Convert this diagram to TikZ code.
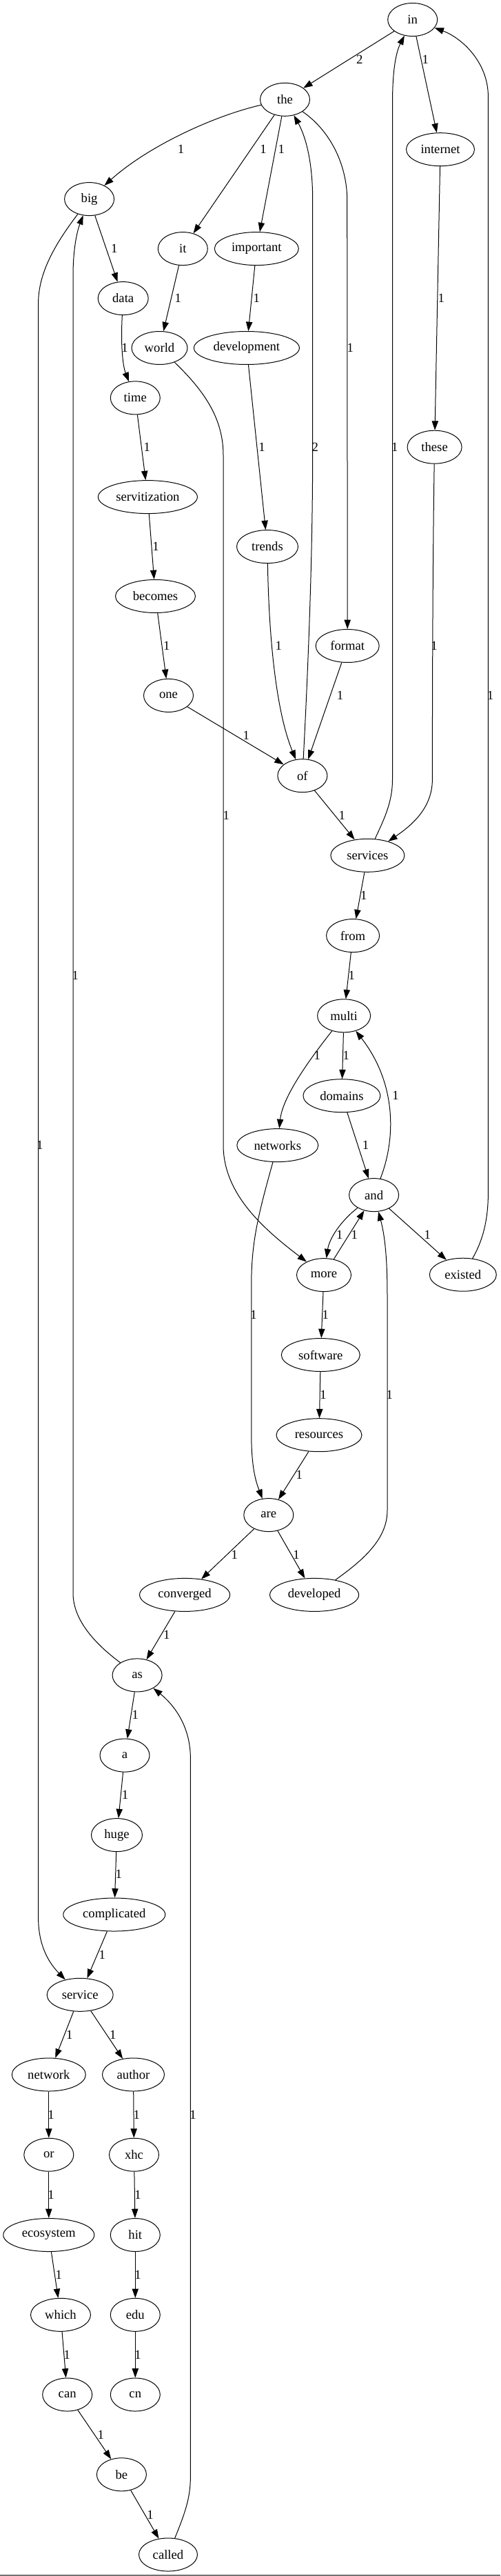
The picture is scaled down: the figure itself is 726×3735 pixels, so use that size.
\documentclass[tikz,border=0pt]{standalone}
\usepackage{fontspec}
\setmainfont{Liberation Serif}
\usetikzlibrary{shapes.geometric,arrows.meta}
\tikzset{
  nd/.style={ellipse, draw, line width=0.75pt, inner sep=0pt, minimum height=36pt, minimum width=54pt, font=\fontsize{14pt}{16pt}\selectfont},
  wd/.style={minimum width=#1*0.75pt},
  lbl/.style={inner sep=0pt, font=\fontsize{14pt}{16pt}\selectfont},
  edge/.style={draw, line width=0.75pt, -{Triangle[length=10pt,width=7pt]}}
}
\begin{document}
\begin{tikzpicture}[x=0.75pt,y=-0.75pt]
\useasboundingbox (0,0) rectangle (726,3735);
\fill[white] (0,0) rectangle (726,3735);
\draw[line width=1.2pt, draw=black!55] (0,3734) -- (726,3734);
% nodes
\node[nd] (in) at (598.7,28.5) {in};
\node[nd] (the) at (413.5,144.3) {the};
\node[nd,wd=99] (internet) at (639,216.7) {internet};
\node[nd] (big) at (129.6,288.6) {big};
\node[nd] (it) at (265.3,360.6) {it};
\node[nd,wd=122] (important) at (372.3,360.6) {important};
\node[nd,wd=73] (data) at (178.7,432.6) {data};
\node[nd,wd=81] (world) at (231.5,504.5) {world};
\node[nd,wd=153] (development) at (357.9,504.5) {development};
\node[nd] (time) at (196.3,576.9) {time};
\node[nd,wd=79] (these) at (630.6,648.2) {these};
\node[nd,wd=144] (servitization) at (214.4,720.6) {servitization};
\node[nd,wd=89] (trends) at (388,792.6) {trends};
\node[nd,wd=116] (becomes) at (225.5,864.5) {becomes};
\node[nd,wd=92] (format) at (504.2,936.5) {format};
\node[nd] (one) at (244.5,1008.4) {one};
\node[nd] (of) at (438.9,1124.7) {of};
\node[nd,wd=107] (services) at (533.4,1240.3) {services};
\node[nd,wd=77] (from) at (512.1,1356.6) {from};
\node[nd,wd=77] (multi) at (499.1,1472.8) {multi};
\node[nd,wd=112] (domains) at (495.9,1588.7) {domains};
\node[nd,wd=118] (networks) at (402.8,1660.6) {networks};
\node[nd] (and) at (542.6,1732.6) {and};
\node[nd,wd=79] (more) at (470,1848.6) {more};
\node[nd,wd=97] (existed) at (671.8,1848.2) {existed};
\node[nd,wd=114] (software) at (465.3,1964.5) {software};
\node[nd,wd=124] (resources) at (463,2080.7) {resources};
\node[nd] (are) at (389.8,2196.6) {are};
\node[nd,wd=131] (converged) at (268.1,2312.4) {converged};
\node[nd,wd=129] (developed) at (456.1,2312.4) {developed};
\node[nd] (as) at (199.1,2428.9) {as};
\node[nd] (a) at (181,2545.1) {a};
\node[nd,wd=74] (huge) at (169.5,2660.6) {huge};
\node[nd,wd=148] (complicated) at (165.8,2776) {complicated};
\node[nd,wd=96] (service) at (116.2,2892.3) {service};
\node[nd,wd=107] (network) at (70.8,3008) {network};
\node[nd,wd=90] (author) at (193.5,3008) {author};
\node[nd] (or) at (70.8,3124.2) {or};
\node[nd] (xhc) at (194.5,3124.2) {xhc};
\node[nd,wd=132] (ecosystem) at (70.8,3240.5) {ecosystem};
\node[nd] (hit) at (196.3,3240.5) {hit};
\node[nd,wd=87] (which) at (88,3356.3) {which};
\node[nd] (edu) at (196.3,3356.3) {edu};
\node[nd] (can) at (97.7,3472) {can};
\node[nd] (cn) at (196.3,3472) {cn};
\node[nd] (be) at (176.4,3587.8) {be};
\node[nd,wd=85] (called) at (244,3704) {called};
% edges
\draw[edge] (in) -- (the) node[lbl] (l1) at (521.8,86.2) {2};
\draw[edge] (in) -- (internet) node[lbl] (l2) at (617.2,86.2) {1};
\draw[edge] (the) .. controls (310,168) and (215,212) .. (big) node[lbl] (l3) at (262.5,216.7) {1};
\draw[edge] (the) -- (it) node[lbl] (l4) at (382,216.7) {1};
\draw[edge] (the) -- (important) node[lbl] (l5) at (408.4,216.7) {1};
\draw[edge] (of) .. controls (448,950) and (453.7,800) .. (453.7,650) -- (453.7,290) .. controls (453.7,230) and (442,195) .. (the) node[lbl] (l6) at (457.4,648.2) {2};
\draw[edge] (the) .. controls (480,190) and (503.7,240) .. (503.7,290) -- (format) node[lbl] (l7) at (508.4,504.5) {1};
\draw[edge] (internet) -- (these) node[lbl] (l8) at (640.3,432.6) {1};
\draw[edge] (services) .. controls (556,1190) and (569.5,1165) .. (569.5,1130) -- (569.5,150) .. controls (569.5,100) and (575,75) .. (in) node[lbl] (l9) at (572.7,648.2) {1};
\draw[edge] (existed) .. controls (700,1800) and (708.4,1770) .. (708.4,1730) -- (708.4,140) .. controls (708.4,90) and (670,55) .. (in) node[lbl] (l10) at (711.6,1008.4) {1};
\draw[edge] (big) -- (data) node[lbl] (l11) at (165.8,360.6) {1};
\draw[edge] (big) .. controls (75,360) and (55.6,400) .. (55.6,440) -- (55.6,2780) .. controls (55.6,2820) and (70,2845) .. (service) node[lbl] (l12) at (57.9,1660.6) {1};
\draw[edge] (as) .. controls (140,2385) and (106,2350) .. (106,2310) -- (106,400) .. controls (106,360) and (112,335) .. (big) node[lbl] (l13) at (109.3,1414.7) {1};
\draw[edge] (it) -- (world) node[lbl] (l14) at (258.4,432.6) {1};
\draw[edge] (important) -- (development) node[lbl] (l15) at (372.3,432.6) {1};
\draw[edge] (data) .. controls (175,500) and (178,530) .. (time) node[lbl] (l16) at (181,504.5) {1};
\draw[edge] (world) .. controls (300,570) and (324,610) .. (324,660) -- (324,1660) .. controls (324,1730) and (380,1780) .. (more) node[lbl] (l17) at (328.3,1182.4) {1};
\draw[edge] (development) -- (trends) node[lbl] (l18) at (380.1,648.2) {1};
\draw[edge] (time) -- (servitization) node[lbl] (l19) at (213.4,648.2) {1};
\draw[edge] (servitization) -- (becomes) node[lbl] (l20) at (226,792.6) {1};
\draw[edge] (trends) .. controls (390,920) and (400,1030) .. (of) node[lbl] (l21) at (404.2,936.5) {1};
\draw[edge] (becomes) -- (one) node[lbl] (l22) at (241.7,936.5) {1};
\draw[edge] (format) -- (of) node[lbl] (l23) at (493.6,1008.4) {1};
\draw[edge] (one) -- (of) node[lbl] (l24) at (357.4,1066.6) {1};
\draw[edge] (these) .. controls (628,800) and (627.4,1000) .. (627.4,1130) .. controls (627.4,1170) and (600,1195) .. (services) node[lbl] (l25) at (630.1,936.5) {1};
\draw[edge] (of) -- (services) node[lbl] (l26) at (496.3,1182.4) {1};
\draw[edge] (services) -- (from) node[lbl] (l27) at (527.8,1298) {1};
\draw[edge] (from) -- (multi) node[lbl] (l28) at (510.2,1414.7) {1};
\draw[edge] (multi) .. controls (450,1535) and (410,1590) .. (networks) node[lbl] (l29) at (460.2,1530.2) {1};
\draw[edge] (multi) -- (domains) node[lbl] (l30) at (502.4,1530.2) {1};
\draw[edge] (and) .. controls (575,1650) and (575,1570) .. (multi) node[lbl] (l31) at (574.1,1588.7) {1};
\draw[edge] (domains) -- (and) node[lbl] (l32) at (530.6,1660.6) {1};
\draw[edge] (and) .. controls (495,1770) and (478,1795) .. (more) node[lbl] (l33) at (492.7,1790) {1};
\draw[edge] (more) -- (and) node[lbl] (l34) at (514.3,1790) {1};
\draw[edge] (and) -- (existed) node[lbl] (l35) at (620.3,1790) {1};
\draw[edge] (developed) .. controls (530,2260) and (562,2230) .. (562,2190) -- (562,1880) .. controls (562,1820) and (558,1790) .. (and) node[lbl] (l36) at (565.3,2022.6) {1};
\draw[edge] (networks) .. controls (375,1760) and (365,1800) .. (364.8,1860) -- (364.8,2080) .. controls (364.8,2130) and (372,2150) .. (are) node[lbl] (l37) at (368.1,1906) {1};
\draw[edge] (more) -- (software) node[lbl] (l38) at (472.3,1906) {1};
\draw[edge] (software) -- (resources) node[lbl] (l39) at (469,2022.6) {1};
\draw[edge] (resources) -- (are) node[lbl] (l40) at (434.3,2138.5) {1};
\draw[edge] (are) -- (converged) node[lbl] (l41) at (340.3,2254.7) {1};
\draw[edge] (are) -- (developed) node[lbl] (l42) at (430.1,2254.7) {1};
\draw[edge] (converged) -- (as) node[lbl] (l43) at (241.7,2370.6) {1};
\draw[edge] (as) -- (a) node[lbl] (l44) at (196.3,2486.2) {1};
\draw[edge] (called) .. controls (270,3640) and (276.4,3620) .. (276.4,3590) -- (276.4,2550) .. controls (276.4,2500) and (250,2470) .. (as) node[lbl] (l45) at (280.1,3066.6) {1};
\draw[edge] (a) -- (huge) node[lbl] (l46) at (181.5,2602.4) {1};
\draw[edge] (huge) -- (complicated) node[lbl] (l47) at (172.2,2717.5) {1};
\draw[edge] (complicated) -- (service) node[lbl] (l48) at (148.2,2834.5) {1};
\draw[edge] (service) -- (network) node[lbl] (l49) at (100.9,2950) {1};
\draw[edge] (service) -- (author) node[lbl] (l50) at (163.9,2950) {1};
\draw[edge] (network) -- (or) node[lbl] (l51) at (74.1,3066.6) {1};
\draw[edge] (author) -- (xhc) node[lbl] (l52) at (198.2,3066.6) {1};
\draw[edge] (or) -- (ecosystem) node[lbl] (l53) at (74.1,3181.9) {1};
\draw[edge] (xhc) -- (hit) node[lbl] (l54) at (200,3181.9) {1};
\draw[edge] (ecosystem) -- (which) node[lbl] (l55) at (85.2,3298.1) {1};
\draw[edge] (hit) -- (edu) node[lbl] (l56) at (200,3298.1) {1};
\draw[edge] (which) -- (can) node[lbl] (l57) at (97.2,3413.9) {1};
\draw[edge] (edu) -- (cn) node[lbl] (l58) at (200,3413.9) {1};
\draw[edge] (can) -- (be) node[lbl] (l59) at (146.3,3530.2) {1};
\draw[edge] (be) -- (called) node[lbl] (l60) at (218.1,3646.4) {1};
\end{tikzpicture}
\end{document}
